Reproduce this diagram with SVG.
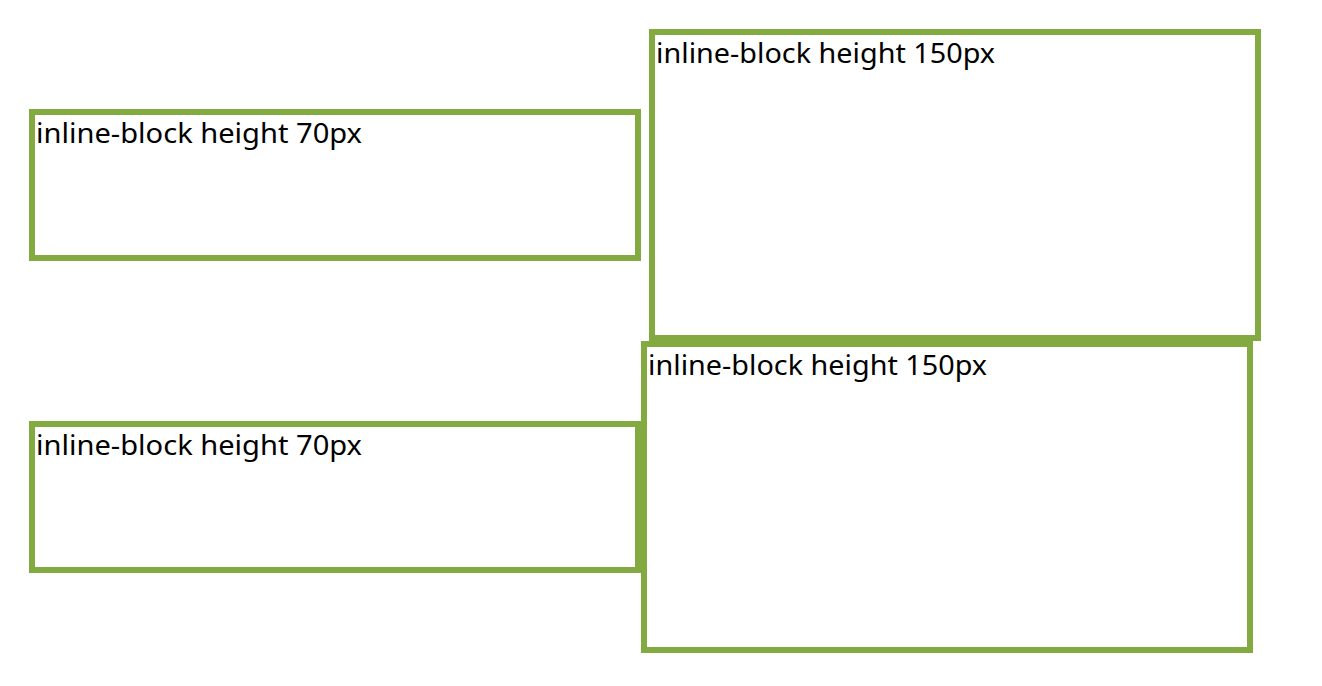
<svg xmlns="http://www.w3.org/2000/svg" width="1322" height="686" viewBox="0 0 1322 686">
<style>
.box{fill:#ffffff;stroke:#82aa40;stroke-width:6}
.lbl{font-family:"Noto Sans","Noto Sans CJK KR",sans-serif;font-size:28px;fill:#000000}
</style>
<rect width="1322" height="686" fill="#ffffff"/>
<g id="box1"><rect class="box" x="32" y="112" width="606" height="146"/><text class="lbl" x="36" y="143" textLength="326" lengthAdjust="spacingAndGlyphs">inline-block height 70px</text></g>
<g id="box2"><rect class="box" x="652" y="32" width="606" height="306"/><text class="lbl" x="656" y="63" textLength="339" lengthAdjust="spacingAndGlyphs">inline-block height 150px</text></g>
<g id="box3"><rect class="box" x="644" y="344" width="606" height="306"/><text class="lbl" x="648" y="375" textLength="339" lengthAdjust="spacingAndGlyphs">inline-block height 150px</text></g>
<g id="box4"><rect class="box" x="32" y="424" width="606" height="146"/><text class="lbl" x="36" y="455" textLength="326" lengthAdjust="spacingAndGlyphs">inline-block height 70px</text></g>
<g id="connectors"></g>
</svg>
